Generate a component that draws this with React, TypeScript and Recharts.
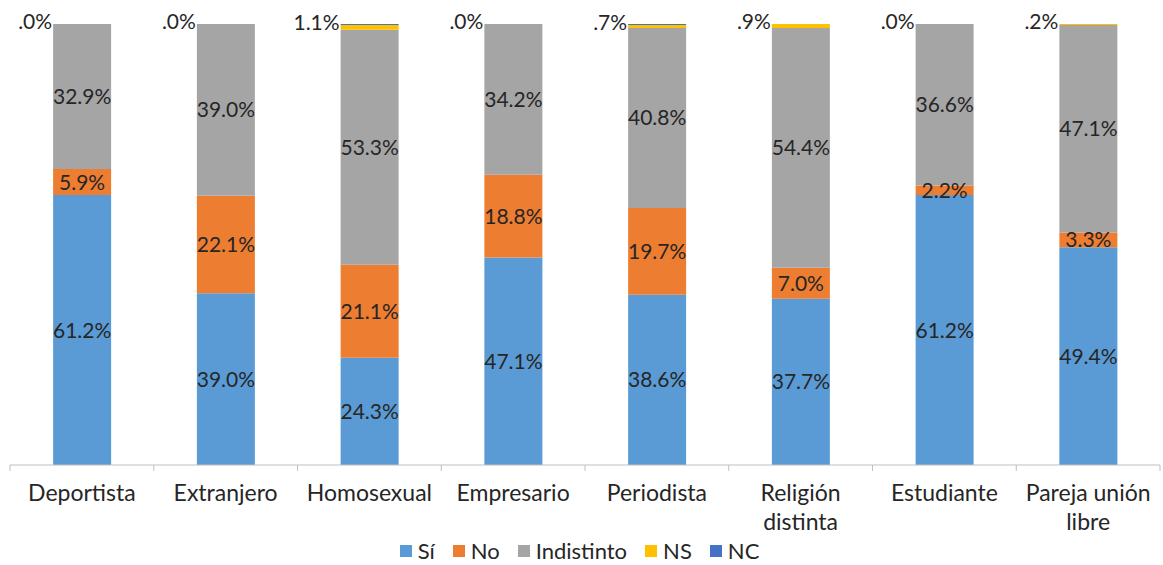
import React from 'react';
import { BarChart, Bar, XAxis, YAxis, LabelList } from 'recharts';

const categories = ['Deportista', 'Extranjero', 'Homosexual', 'Empresario', 'Periodista', 'Religión\ndistinta', 'Estudiante', 'Pareja unión\nlibre'];
const si = [61.2, 39.0, 24.3, 47.1, 38.6, 37.7, 61.2, 49.4];
const no = [5.9, 22.1, 21.1, 18.8, 19.7, 7.0, 2.2, 3.3];
const indistinto = [32.9, 39.0, 53.3, 34.2, 40.8, 54.4, 36.6, 47.1];
const ns = [0.0, 0.0, 1.1, 0.0, 0.7, 0.9, 0.0, 0.2];
const nc = [0.0, 0.0, 0.2, 0.0, 0.2, 0.0, 0.0, 0.0];

const series = [
  { key: 'si', name: 'Sí', color: '#5B9BD5' },
  { key: 'no', name: 'No', color: '#ED7D31' },
  { key: 'indistinto', name: 'Indistinto', color: '#A5A5A5' },
  { key: 'ns', name: 'NS', color: '#FFC000' },
  { key: 'nc', name: 'NC', color: '#4472C4' },
];

const data = categories.map((name, i) => ({
  name,
  si: si[i],
  no: no[i],
  indistinto: indistinto[i],
  ns: ns[i],
  nc: nc[i],
}));

const FONT = 'Lato, "Open Sans", sans-serif';
const TEXT = '#262626';
const WIDTH = 1163;
const MARGIN = { top: 24, right: 3, left: 10, bottom: 0 };
const BAND = (WIDTH - MARGIN.left - MARGIN.right) / categories.length;

// Excel-style "#.0%" format, no leading zero
const fmt = (v: number) => {
  const s = Number(v).toFixed(1);
  return (s.startsWith('0') ? s.slice(1) : s) + '%';
};

function CategoryTick(props: any) {
  const { x, y, payload, index } = props;
  const lines = String(payload.value).split('\n');
  return (
    <g>
      <line x1={x - BAND / 2} x2={x - BAND / 2} y1={y - 8} y2={y - 2} stroke="#BFBFBF" />
      {index === categories.length - 1 && (
        <line x1={x + BAND / 2} x2={x + BAND / 2} y1={y - 8} y2={y - 2} stroke="#BFBFBF" />
      )}
      <text x={x} y={y + 28} textAnchor="middle" fill={TEXT} fontSize={23} fontFamily={FONT}>
        {lines.map((l, i) => (
          <tspan key={i} x={x} dy={i === 0 ? 0 : 29}>{l}</tspan>
        ))}
      </text>
    </g>
  );
}

function TopText({ x, y, value }: { x: number; y: number; value: number }) {
  return (
    <text x={x - 1} y={y + 5} textAnchor="end" fill={TEXT} fontSize={21} fontFamily={FONT}>
      {fmt(value)}
    </text>
  );
}

// NS label when the NS segment has height
function NsLabel(props: any) {
  const { x, y, value } = props;
  if (!value) return null;
  return <TopText x={x} y={y} value={value} />;
}

// NS label of ".0%" when NS and NC are empty (drawn at the top of the gray segment)
function ZeroNsLabel(props: any) {
  const { x, y, index } = props;
  if (ns[index] !== 0 || nc[index] !== 0) return null;
  return <TopText x={x} y={y} value={0} />;
}

function ChartLegend() {
  return (
    <div style={{ height: 32, display: 'flex', justifyContent: 'center', fontFamily: FONT, fontSize: 22, lineHeight: '28px', color: TEXT, paddingLeft: 14, paddingTop: 4, boxSizing: 'border-box' }}>
      {series.map(s => (
        <span key={s.key} style={{ display: 'inline-flex', alignItems: 'center', marginRight: 18 }}>
          <span style={{ width: 12, height: 12, background: s.color, display: 'inline-block', marginRight: 6 }} />
          {s.name}
        </span>
      ))}
    </div>
  );
}

export default function App() {
  return (
    <div style={{ position: 'absolute', top: 0, left: 0, width: WIDTH, height: 565, background: '#fff', overflow: 'hidden' }}>
      <BarChart width={WIDTH} height={533} data={data} margin={MARGIN} stackOffset="expand" barCategoryGap="30%">
        <XAxis
          dataKey="name"
          axisLine={{ stroke: '#BFBFBF' }}
          tickLine={false}
          interval={0}
          height={68}
          tick={<CategoryTick />}
        />
        <YAxis hide domain={[0, 1]} />
        {series.map(s => (
          <Bar key={s.key} dataKey={s.key} name={s.name} stackId="a" fill={s.color} isAnimationActive={false}>
            {(s.key === 'si' || s.key === 'no' || s.key === 'indistinto') && (
              <LabelList
                dataKey={s.key}
                position="center"
                formatter={(v: any) => fmt(v)}
                fill={TEXT}
                fontSize={21}
                fontFamily={FONT}
              />
            )}
            {s.key === 'indistinto' && <LabelList dataKey="ns" content={<ZeroNsLabel />} />}
            {s.key === 'ns' && <LabelList dataKey="ns" content={<NsLabel />} />}
          </Bar>
        ))}
      </BarChart>
      <ChartLegend />
    </div>
  );
}
